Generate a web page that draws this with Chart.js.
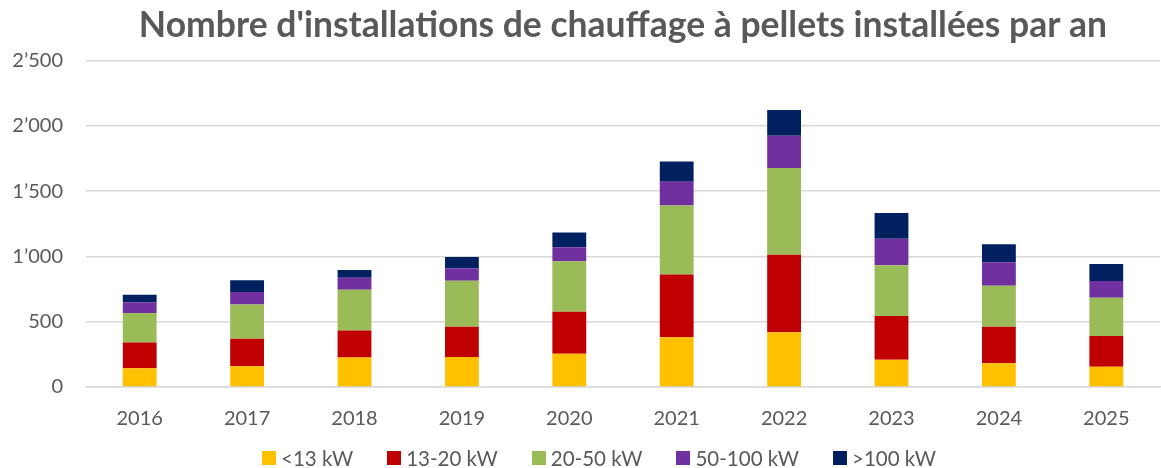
<!DOCTYPE html>
<html>
<head>
<meta charset="utf-8">
<script src="https://cdn.jsdelivr.net/npm/chart.js@4"></script>
<style>
  html, body { margin: 0; padding: 0; background: #fff; }
  #wrap { position: relative; width: 1161px; height: 468px; }
  #legende {
    position: absolute; left: 262px; top: 446px; height: 24px;
    display: flex; align-items: center;
    font-family: Lato, 'Open Sans', sans-serif; font-size: 20.5px; color: #595959;
  }
  #legende .item { display: flex; align-items: center; margin-right: 34px; white-space: nowrap; }
  #legende .item:last-child { margin-right: 0; }
  #legende .carre { width: 14px; height: 14px; margin-right: 5px; }
</style>
</head>
<body>
<div id="wrap">
  <canvas id="pelletsChart" width="1161" height="468"></canvas>
  <div id="legende"></div>
</div>
<script>
// Données
const annees = ["2016", "2017", "2018", "2019", "2020", "2021", "2022", "2023", "2024", "2025"];
const moins13 = [143, 159, 225, 230, 255, 381, 419, 209, 182, 156];
const de13a20 = [197, 211, 207, 232, 322, 480, 593, 335, 280, 235];
const de20a50 = [227, 261, 312, 351, 387, 529, 665, 389, 313, 292];
const de50a100 = [83, 97, 92, 97, 107, 182, 248, 202, 181, 128];
const plus100 = [56, 90, 61, 85, 112, 156, 197, 197, 138, 132];
const ticksY = [0, 500, 1000, 1500, 2000, 2500];

const POLICE = "Lato, 'Open Sans', sans-serif";
const GRIS = '#595959';

function formatSuisse(v) {
    return String(v).replace(/\B(?=(\d{3})+(?!\d))/g, '\u2019');
}

function serie(label, data, couleur) {
    return {
        label: label,
        data: data,
        backgroundColor: couleur,
        borderWidth: 0,
        barPercentage: 0.315,
        categoryPercentage: 1
    };
}

const ctx = document.getElementById('pelletsChart').getContext('2d');
const chart = new Chart(ctx, {
    type: 'bar',
    data: {
        labels: annees,
        datasets: [
            serie('<13 kW', moins13, '#ffc000'),
            serie('13-20 kW', de13a20, '#c00000'),
            serie('20-50 kW', de20a50, '#9bbb59'),
            serie('50-100 kW', de50a100, '#7030a0'),
            serie('>100 kW', plus100, '#002060')
        ]
    },
    options: {
        responsive: false,
        animation: false,
        layout: { padding: { left: 8, right: 1, top: 0, bottom: 25 } },
        scales: {
            x: {
                stacked: true,
                grid: { display: false },
                border: { color: '#d9d9d9', width: 1.5 },
                ticks: { color: GRIS, font: { family: POLICE, size: 20 }, padding: 12 }
            },
            y: {
                stacked: true,
                min: 0,
                max: 2500,
                afterBuildTicks: axis => { axis.ticks = ticksY.map(v => ({ value: v })); },
                afterFit: axis => { axis.width = 78; },
                grid: { color: '#d9d9d9', lineWidth: 1.5, drawTicks: false },
                border: { display: false },
                ticks: {
                    color: GRIS,
                    font: { family: POLICE, size: 20 },
                    padding: 23,
                    callback: v => formatSuisse(v)
                }
            }
        },
        plugins: {
            title: {
                display: true,
                fullSize: false,
                text: "Nombre d'installations de chauffage à pellets installées par an",
                color: GRIS,
                font: { family: POLICE, size: 35.5, weight: 'bold' },
                padding: { top: 4, bottom: 14 }
            },
            legend: { display: false },
            tooltip: { enabled: false }
        }
    }
});

// Légende HTML (même ordre et couleurs que les séries)
const legende = document.getElementById('legende');
chart.data.datasets.forEach(ds => {
    const item = document.createElement('div');
    item.className = 'item';
    const carre = document.createElement('span');
    carre.className = 'carre';
    carre.style.background = ds.backgroundColor;
    const txt = document.createElement('span');
    txt.textContent = ds.label;
    item.appendChild(carre);
    item.appendChild(txt);
    legende.appendChild(item);
});
</script>
</body>
</html>
